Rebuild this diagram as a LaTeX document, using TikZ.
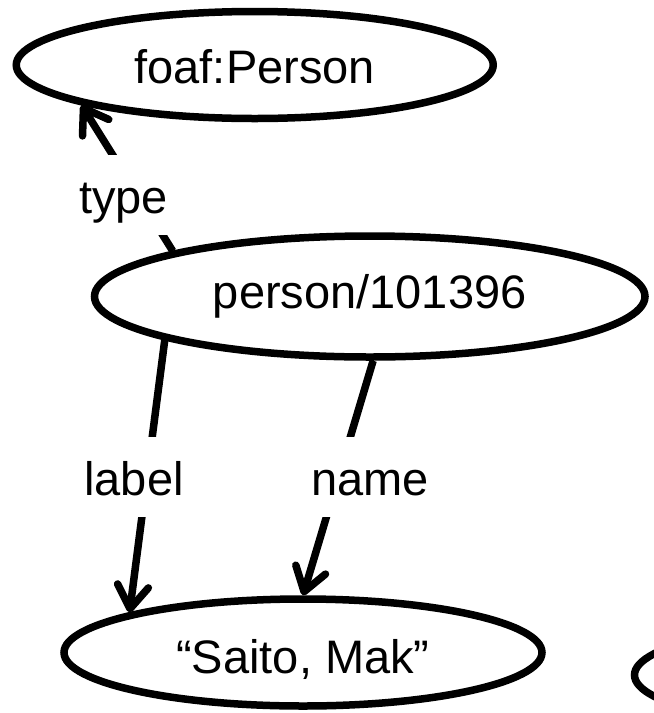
\documentclass[tikz,border=0pt]{standalone}
\usepackage{fontspec}
\setmainfont{Liberation Sans}
\usetikzlibrary{arrows.meta,shapes.geometric}
\begin{document}
\begin{tikzpicture}[x=1pt,y=-1pt,
  every node/.style={font=\fontsize{47}{56}\selectfont},
  res/.style={ellipse, draw, line width=7.5pt, inner sep=0pt,
              minimum width=477pt, minimum height=107pt},
  rel/.style={line width=7.5pt, -{Straight Barb[length=23pt,width=31pt,round]}},
  edgelabel/.style={fill=white, inner xsep=3pt, inner ysep=0pt,
                    text height=58pt, text depth=22pt, anchor=base}
]
\useasboundingbox (0,0) rectangle (654,713);
\clip (0,0) rectangle (654,713);

% resources and literal
\node[res, text height=36pt, text depth=0pt] (cls) at (254.75,65) {foaf:Person};
\node[res, minimum width=550.5pt, minimum height=121pt,
      text height=33.6pt, text depth=10.6pt] (pers) at (369.75,296.5) {person/101396};
\node[res, minimum width=478pt, text height=41pt, text depth=0pt] (lit) at (303,652.5) {“Saito, Mak”};
\node[res] (next) at (873,675) {};

% properties
\draw[rel] (pers.167.5) -- (cls.193);
\draw[rel] (pers.192.4) -- (lit.167.4);
\draw[rel] (pers.273) -- (lit.90);

% property names, set over the lines
\node[edgelabel] (t) at (123.5,213) {type};
\node[edgelabel] (l) at (134,495) {label};
\node[edgelabel] (n) at (370,495) {name};
\end{tikzpicture}
\end{document}
